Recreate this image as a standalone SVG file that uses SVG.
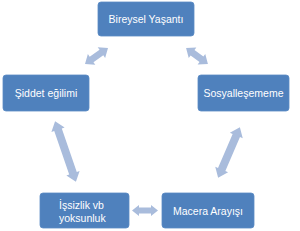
<svg xmlns="http://www.w3.org/2000/svg" width="300" height="231" viewBox="0 0 300 231">
<style>
.box{fill:#4F81BD;stroke:#5B8AC4;stroke-width:0.8}
.t{fill:#FFFFFF;font-family:"Liberation Sans",Arial,sans-serif;font-size:10.5px;text-anchor:middle;dominant-baseline:central}
.ts{fill:#FFFFFF;font-family:"Liberation Sans",Arial,sans-serif;font-size:10.5px;text-anchor:start;dominant-baseline:central}
.arr{fill:#A9BCDC}
</style>
<rect width="300" height="231" fill="#FFFFFF"/>
<g id="connectors">
<g transform="translate(96.5,56) rotate(-34.8)"><polygon class="arr" points="-14,0 -6,-6.5 -6,-3.3 6,-3.3 6,-6.5 14,0 6,6.5 6,3.3 -6,3.3 -6,6.5"/></g>
<g transform="translate(197,56) rotate(36)"><polygon class="arr" points="-13.5,0 -5.5,-6.5 -5.5,-3.3 5.5,-3.3 5.5,-6.5 13.5,0 5.5,6.5 5.5,3.3 -5.5,3.3 -5.5,6.5"/></g>
<g transform="translate(65.5,151.5) rotate(71)"><polygon class="arr" points="-32,0 -23,-7 -23,-4 23,-4 23,-7 32,0 23,7 23,4 -23,4 -23,7"/></g>
<g transform="translate(229,152.5) rotate(113.3)"><polygon class="arr" points="-27.5,0 -18.5,-7 -18.5,-4 18.5,-4 18.5,-7 27.5,0 18.5,7 18.5,4 -18.5,4 -18.5,7"/></g>
<g transform="translate(145,210.5)"><polygon class="arr" points="-13,0 -6,-5.5 -6,-3 6,-3 6,-5.5 13,0 6,5.5 6,3 -6,3 -6,5.5"/></g>
</g>
<g id="node-bireysel">
<rect class="box" x="98" y="2" width="96" height="34" rx="3"/>
<text class="t" x="146" y="19">Bireysel Yaşantı</text>
</g>
<g id="node-siddet">
<rect class="box" x="3" y="75" width="86" height="36" rx="3"/>
<text class="t" x="46" y="93">Şiddet eğilimi</text>
</g>
<g id="node-sosyal">
<rect class="box" x="198" y="75" width="91" height="36" rx="3"/>
<text class="t" x="243.5" y="93">Sosyalleşememe</text>
</g>
<g id="node-issizlik">
<rect class="box" x="40" y="193" width="89" height="35" rx="3"/>
<text class="ts" x="59" y="204.5">İşsizlik vb</text>
<text class="ts" x="59" y="217.5">yoksunluk</text>
</g>
<g id="node-macera">
<rect class="box" x="162" y="193" width="92" height="35" rx="3"/>
<text class="t" x="208" y="210.5">Macera Arayışı</text>
</g>
</svg>
